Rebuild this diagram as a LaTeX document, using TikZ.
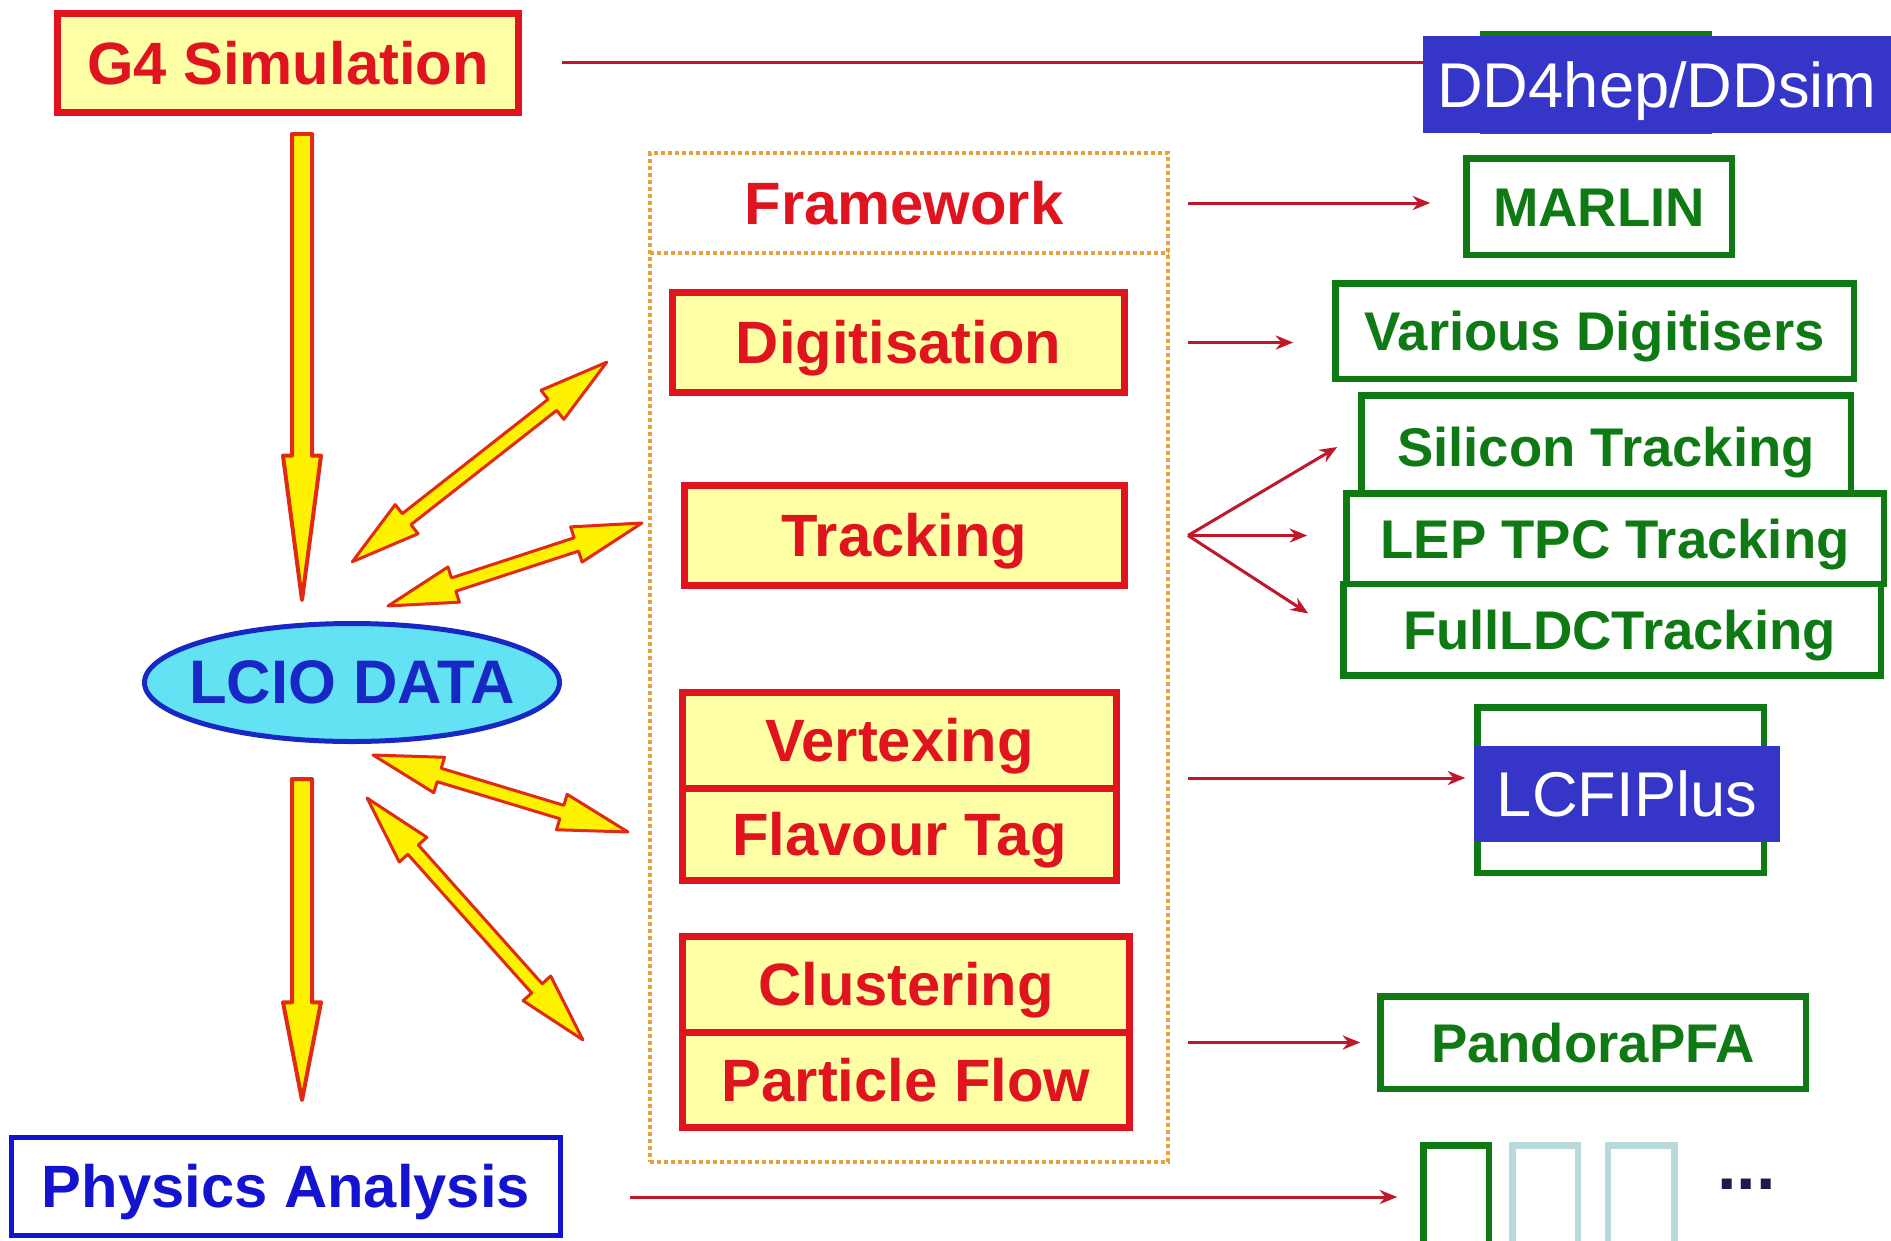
\documentclass[tikz,border=0pt]{standalone}
\usepackage{fontspec}
\setmainfont{Liberation Sans}
\usetikzlibrary{arrows.meta,positioning,shapes.geometric,shapes.arrows,calc}
\definecolor{boxred}{HTML}{E0141E}
\definecolor{paleyellow}{HTML}{FFFFA6}
\definecolor{boxgreen}{HTML}{0F7A14}
\definecolor{linkred}{HTML}{C0182A}
\definecolor{tagblue}{HTML}{3535C8}
\definecolor{anablue}{HTML}{1414D0}
\definecolor{lciocyan}{HTML}{62E2F2}
\definecolor{lcioblue}{HTML}{1828C4}
\definecolor{frameorange}{HTML}{E8A23C}
\definecolor{fadebox}{HTML}{B9D9DA}
\definecolor{dotnavy}{HTML}{1C1C4C}
\definecolor{fatred}{HTML}{E02A14}

\tikzset{
  redbox/.style={draw=boxred, line width=0.07cm, fill=paleyellow, text=boxred, inner sep=0pt, outer sep=0pt,
    font=\fontsize{17}{20}\selectfont\bfseries, text height=12.2pt, text depth=0pt},
  greenbox/.style={draw=boxgreen, line width=0.065cm, fill=white, text=boxgreen, inner sep=0pt, outer sep=0pt,
    font=\fontsize{15.5}{18}\selectfont\bfseries, text height=11.1pt, text depth=0pt},
  toolbox/.style={fill=tagblue, text=white, inner sep=0pt, font=\fontsize{18}{21}\selectfont, text height=12.9pt, text depth=0pt},
  link/.style={-{Stealth[length=5pt,width=4pt]}, draw=linkred, line width=0.03cm},
  framedots/.style={draw=frameorange, line width=0.04cm, dash pattern=on 0.04cm off 0.03cm},
  fatdown/.style={single arrow, draw=fatred, fill=yellow, line width=0.04cm, line join=round, inner xsep=0pt, inner ysep=0.08cm,
    single arrow head extend=0.09cm, minimum width=0pt},
  fatboth/.style={double arrow, draw=fatred, fill=yellow, line width=0.03cm, line join=round, inner xsep=0pt, inner ysep=0.055cm,
    double arrow head extend=0.115cm, double arrow tip angle=30, minimum width=0pt}
}

\newcommand\fatone[3]{%
  \path let \p1=($(#3)-(#2)$), \n1={veclen(\x1,\y1)}, \n2={atan2(\y1,\x1)} in
    node[#1, anchor=tail, rotate=\n2, minimum height=\n1] at (#2) {};}
\newcommand\fattwo[3]{%
  \path let \p1=($(#3)-(#2)$), \n1={veclen(\x1,\y1)}, \n2={atan2(\y1,\x1)} in
    node[#1, rotate=\n2, minimum height=\n1] at ($(#2)!0.5!(#3)$) {};}

\begin{document}
\begin{tikzpicture}
  \fill[white] (0,0) rectangle (18.91,12.40);
  \useasboundingbox (0,0) rectangle (18.91,12.40);
  \clip (0,0) rectangle (18.91,12.40);

  % left column
  \node[redbox, minimum width=4.61cm, minimum height=0.99cm] (g4) at (2.88,11.77) {G4 Simulation};
  \node[ellipse, draw=lcioblue, line width=0.05cm, fill=lciocyan, text=lcioblue, inner xsep=-0.4cm, inner ysep=0pt,
    minimum width=4.15cm, minimum height=1.18cm, font=\fontsize{17.5}{20}\selectfont\bfseries] (lcio) at (3.52,5.575) {LCIO DATA};
  \node[draw=anablue, line width=0.05cm, text=anablue, inner sep=0pt, outer sep=0pt, minimum width=5.49cm, minimum height=0.98cm,
    font=\fontsize{17}{20}\selectfont\bfseries, text height=12.2pt, text depth=0pt] (phys) at (2.86,0.535) {Physics Analysis};

  % framework column
  \node[framedots, outer sep=0pt, minimum width=5.18cm, minimum height=10.09cm] (frame) at (9.09,5.825) {};
  \draw[framedots] ([yshift=-1cm]frame.north west) -- ([yshift=-1cm]frame.north east);
  \node[text=boxred, font=\fontsize{17}{20}\selectfont\bfseries] (fw) at (9.04,10.37) {Framework};
  \node[redbox, minimum width=4.52cm, minimum height=1.00cm] (digit) at (8.985,8.975) {Digitisation};
  \node[redbox, minimum width=4.40cm, minimum height=1.00cm] (track) at (9.045,7.045) {Tracking};
  \node[redbox, minimum width=4.34cm, minimum height=0.955cm] (vtx) at (8.995,4.9975) {Vertexing};
  \node[redbox, minimum width=4.34cm, minimum height=0.925cm, below=0pt of vtx] (flav) {Flavour Tag};
  \node[redbox, minimum width=4.47cm, minimum height=0.955cm] (clus) at (9.06,2.5575) {Clustering};
  \node[redbox, minimum width=4.47cm, minimum height=0.955cm, below=0pt of clus] (pflow) {Particle Flow};

  % packages
  \node[greenbox, minimum width=2.255cm, minimum height=0.965cm] (ddbox) at (15.96,11.575) {};
  \node[greenbox, minimum width=2.655cm, minimum height=0.965cm] (marlin) at (15.99,10.335) {MARLIN};
  \node[greenbox, minimum width=5.185cm, minimum height=0.955cm] (various) at (15.945,9.09) {Various Digitisers};
  \node[greenbox, minimum width=4.895cm, minimum height=1.035cm] (silicon) at (16.06,7.93) {Silicon Tracking};
  \node[greenbox, minimum width=5.375cm, minimum height=0.905cm] (lep) at (16.15,7.015) {LEP TPC Tracking};
  \node[greenbox, minimum width=5.375cm, minimum height=0.915cm, below=0pt of lep, xshift=-0.03cm] (full) {\hspace{0.15cm}FullLDCTracking};
  \node[greenbox, minimum width=2.865cm, minimum height=1.655cm] (lcfibox) at (16.205,4.50) {};
  \node[greenbox, minimum width=4.255cm, minimum height=0.925cm] (pandora) at (15.93,1.975) {PandoraPFA};
  \node[greenbox, minimum width=0.655cm, minimum height=1.035cm] (sq1) at (14.56,0.43) {};
  \node[greenbox, draw=fadebox, minimum width=0.655cm, minimum height=1.035cm, right=0.235cm of sq1] (sq2) {};
  \node[greenbox, draw=fadebox, minimum width=0.665cm, minimum height=1.035cm, right=0.3cm of sq2] (sq3) {};
  \node[text=dotnavy, font=\fontsize{20}{24}\selectfont\bfseries] (more) at (17.465,0.56) {...};

  % thin links
  \draw[link, shorten <=4.35mm] (g4.east) -- (ddbox.west |- g4.east);
  \node[toolbox, minimum width=4.68cm, minimum height=0.97cm] (dd) at (16.57,11.555) {DD4hep/DDsim};
  \draw[link, shorten <=2mm, shorten >=3.6mm] (frame.east |- fw) -- (marlin.west |- fw);
  \draw[link, shorten <=2mm, shorten >=4.2mm] (frame.east |- digit) -- (various.west |- digit);
  \coordinate (fan) at ($(frame.east |- track)+(2mm,0)$);
  \draw[link] (fan) -- ($(silicon.west)+(-2.4mm,0)$);
  \draw[link] (fan) -- ($(lep.west |- fan)+(-3.9mm,0)$);
  \draw[link] (fan) -- ($(full.west)+(-3.5mm,1.6mm)$);
  \draw[link, shorten <=2mm, shorten >=1.2mm] ($(frame.east |- lcfibox)+(0,1.2mm)$) -- ($(lcfibox.west)+(0,1.2mm)$);
  \node[toolbox, minimum width=3.06cm, minimum height=0.96cm] (lcfi) at (16.27,4.46) {LCFIPlus};
  \draw[link, shorten <=2mm, shorten >=2mm] (frame.east |- pandora) -- (pandora.west);
  \draw[link, shorten <=6.95mm, shorten >=2.6mm] (phys.east |- sq1) -- (sq1.west);

  % fat arrows
  \coordinate (g4out) at (3.02,11.08);
  \coordinate (lcioin) at (3.02,6.42);
  \coordinate (lcioout) at (3.02,4.63);
  \coordinate (physin) at (3.02,1.42);
  \fatone{fatdown, single arrow tip angle=15}{g4out}{lcioin}
  \fatone{fatdown, single arrow tip angle=22}{lcioout}{physin}
  \coordinate (dig1) at (3.52,6.78);  \coordinate (dig2) at (6.07,8.78);
  \coordinate (trk1) at (3.88,6.34);  \coordinate (trk2) at (6.42,7.17);
  \coordinate (vtx1) at (3.73,4.85);  \coordinate (vtx2) at (6.28,4.08);
  \coordinate (cls1) at (3.67,4.42);  \coordinate (cls2) at (5.83,2.00);
  \foreach \a/\b in {dig1/dig2, trk1/trk2, vtx1/vtx2, cls1/cls2}{
    \fattwo{fatboth}{\a}{\b}
  }
\end{tikzpicture}
\end{document}
